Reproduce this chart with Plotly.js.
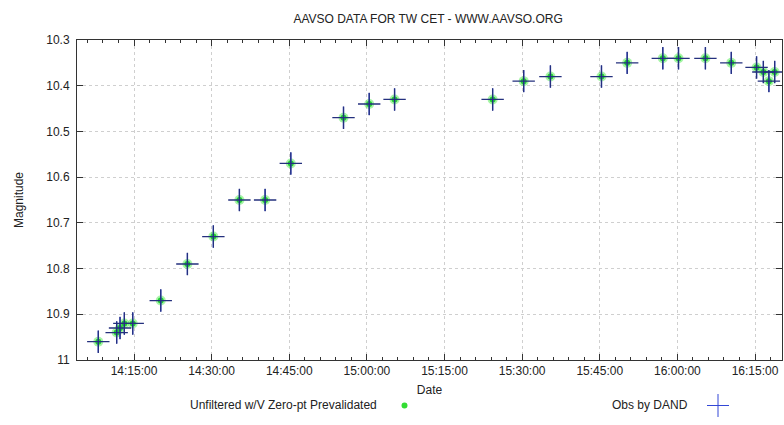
<!DOCTYPE html>
<html>
<head>
<meta charset="utf-8">
<script src="https://cdn.plot.ly/plotly-3.0.1.min.js"></script>
<style>html,body{margin:0;padding:0;background:#fff;}#chart{width:784px;height:425px;}</style>
</head>
<body>
<div id="chart"></div>
<script>
// Observation times (date part is arbitrary; only the time is shown)
const obsTimes = [
  "2021-01-01 14:08:06", "2021-01-01 14:11:39", "2021-01-01 14:12:18", "2021-01-01 14:13:08",
  "2021-01-01 14:14:45", "2021-01-01 14:20:10", "2021-01-01 14:25:19", "2021-01-01 14:30:20",
  "2021-01-01 14:35:22", "2021-01-01 14:40:20", "2021-01-01 14:45:18", "2021-01-01 14:55:29",
  "2021-01-01 15:00:27", "2021-01-01 15:05:21", "2021-01-01 15:24:18", "2021-01-01 15:30:18",
  "2021-01-01 15:35:28", "2021-01-01 15:45:20", "2021-01-01 15:50:18", "2021-01-01 15:57:11",
  "2021-01-01 16:00:13", "2021-01-01 16:05:25", "2021-01-01 16:10:25", "2021-01-01 16:15:18",
  "2021-01-01 16:16:37", "2021-01-01 16:17:41", "2021-01-01 16:18:48"
];
const magnitudes = [
  10.96, 10.94, 10.93, 10.92,
  10.92, 10.87, 10.79, 10.73,
  10.65, 10.65, 10.57, 10.47,
  10.44, 10.43, 10.43, 10.39,
  10.38, 10.38, 10.35, 10.34,
  10.34, 10.34, 10.35, 10.36,
  10.37, 10.39, 10.37
];
const magErrors = [
  0.024, 0.024, 0.024, 0.024,
  0.024, 0.024, 0.024, 0.024,
  0.024, 0.024, 0.024, 0.024,
  0.024, 0.024, 0.024, 0.024,
  0.024, 0.024, 0.024, 0.024,
  0.024, 0.024, 0.024, 0.024,
  0.024, 0.024, 0.024
];
const yTickVals = [10.3, 10.4, 10.5, 10.6, 10.7, 10.8, 10.9, 11];
const yTickText = ["10.3", "10.4", "10.5", "10.6", "10.7", "10.8", "10.9", "11"];
const seriesNames = ["Unfiltered w/V Zero-pt Prevalidated", "Obs by DAND"];

const FONT = "Liberation Sans, Arial, sans-serif";

const traces = [
  {
    x: obsTimes, y: magnitudes, type: "scatter", mode: "markers",
    name: seriesNames[0], showlegend: false, hoverinfo: "skip",
    marker: {symbol: "circle", size: 10, color: "rgba(80,235,80,0.5)", line: {width: 0}}
  },
  {
    x: obsTimes, y: magnitudes, type: "scatter", mode: "markers",
    name: seriesNames[0], showlegend: false,
    marker: {symbol: "circle", size: 6, color: "#22cc33", line: {width: 0}}
  },
  {
    x: obsTimes, y: magnitudes, type: "scatter", mode: "markers",
    name: seriesNames[1], showlegend: false,
    error_y: {type: "data", array: magErrors, visible: true, color: "#3a4ed8", thickness: 1.3, width: 0},
    marker: {symbol: "cross-thin", size: 16, color: "#24307e", line: {width: 1.3, color: "#24307e"}}
  }
];

const layout = {
  width: 784, height: 425,
  margin: {l: 77, r: 2, t: 40, b: 65},
  paper_bgcolor: "#fff", plot_bgcolor: "#fff",
  font: {family: FONT, size: 12, color: "#222"},
  title: {text: "AAVSO DATA FOR TW CET - WWW.AAVSO.ORG", x: 0.546, xanchor: "center", y: 0.955, yanchor: "middle",
          font: {family: FONT, size: 12, color: "#222"}},
  xaxis: {
    type: "date",
    range: ["2021-01-01 14:03:59", "2021-01-01 16:20:13"],
    tick0: "2021-01-01 14:15:00", dtick: 15 * 60 * 1000,
    tickformat: "%H:%M:%S",
    ticks: "inside", ticklen: 6, tickcolor: "#333", tickwidth: 1,
    minor: {dtick: 3 * 60 * 1000, ticks: "inside", ticklen: 3, tickcolor: "#333", showgrid: false},
    showgrid: true, gridcolor: "#cfcfcf", griddash: "dot", gridwidth: 1,
    showline: true, linecolor: "#333", linewidth: 1, mirror: "ticks",
    zeroline: false,
    tickfont: {family: FONT, size: 12, color: "#222"},
    title: {text: "Date", standoff: 8, font: {family: FONT, size: 12, color: "#222"}}
  },
  yaxis: {
    range: [11, 10.3],
    tickvals: yTickVals, ticktext: yTickText,
    ticks: "inside", ticklen: 6, tickcolor: "#333", tickwidth: 1,
    showgrid: true, gridcolor: "#cfcfcf", griddash: "dot", gridwidth: 1,
    showline: true, linecolor: "#333", linewidth: 1, mirror: "ticks",
    zeroline: false,
    ticklabelstandoff: 4,
    tickfont: {family: FONT, size: 12, color: "#222"},
    title: {text: "Magnitude", standoff: 20, font: {family: FONT, size: 12, color: "#222"}}
  },
  annotations: [
    {xref: "paper", yref: "paper", x: (379 - 77) / 705, y: (360 - 405) / 320, xanchor: "right", yanchor: "middle",
     text: seriesNames[0], showarrow: false, font: {family: FONT, size: 12, color: "#222"}},
    {xref: "paper", yref: "paper", x: (690 - 77) / 705, y: (360 - 405) / 320, xanchor: "right", yanchor: "middle",
     text: seriesNames[1], showarrow: false, font: {family: FONT, size: 12, color: "#222"}}
  ],
  shapes: [
    // legend glyphs
    {type: "circle", xref: "paper", yref: "paper", x0: (401.5 - 77) / 705, x1: (407.5 - 77) / 705,
     y0: (360 - 408.5) / 320, y1: (360 - 402.5) / 320, fillcolor: "#33dd33", line: {width: 0}},
    {type: "line", xref: "paper", yref: "paper", x0: (707 - 77) / 705, x1: (729 - 77) / 705,
     y0: (360 - 405.5) / 320, y1: (360 - 405.5) / 320, line: {color: "#3347d6", width: 1}},
    {type: "line", xref: "paper", yref: "paper", x0: (718 - 77) / 705, x1: (718 - 77) / 705,
     y0: (360 - 394) / 320, y1: (360 - 417) / 320, line: {color: "#3347d6", width: 1}}
  ],
  showlegend: false
};

Plotly.newPlot("chart", traces, layout, {displayModeBar: false, staticPlot: true});
</script>
</body>
</html>
